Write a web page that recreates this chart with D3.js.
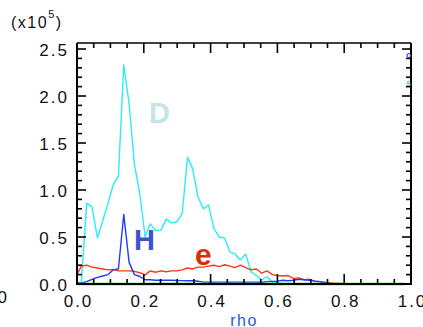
<!DOCTYPE html>
<html><head><meta charset="utf-8">
<script src="https://cdn.jsdelivr.net/npm/d3@7"></script>
<style>
html,body{margin:0;padding:0;background:#fff;}
svg{display:block;}
text{font-family:"Liberation Sans",Arial,Helvetica,sans-serif;}
</style></head>
<body>
<svg id="chart" width="423" height="327"></svg>
<script>
// ---- data ----
const rho = [0.000,0.013,0.029,0.045,0.061,0.077,0.093,0.108,0.124,0.140,0.156,0.172,0.188,0.204,0.219,0.235,0.251,0.267,0.283,0.299,0.315,0.331,0.346,0.362,0.378,0.394,0.410,0.426,0.442,0.458,0.473,0.489,0.505,0.521,0.537,0.553,0.569,0.585,0.600,0.616,0.632,0.648,0.664,0.680,0.696,0.712,0.727,0.743,0.759,0.775,0.791,0.807,0.823,0.838,0.854,0.870,0.886,0.902,0.918,0.934,0.950,0.965,0.981];
const seriesD = [0.00,0.01,0.86,0.82,0.49,0.67,0.86,1.05,1.15,2.33,1.92,1.27,0.96,0.50,0.64,0.57,0.57,0.69,0.65,0.66,0.75,1.35,1.23,0.93,0.80,0.84,0.59,0.50,0.49,0.34,0.32,0.255,0.32,0.13,0.09,0.04,0.08,0.015,0.01,0.005,0,0,0,0,0,0,0,0,0,0,0,0,0,0,0,0,0,0,0,0,0,0,0];
const seriesH = [0.01,0.01,0.025,0.05,0.07,0.085,0.10,0.15,0.16,0.74,0.23,0.10,0.08,0.045,0.045,0.04,0.04,0.04,0.04,0.038,0.036,0.035,0.035,0.03,0.02,0.02,0.02,0.02,0.02,0.02,0.02,0.02,0.02,0.02,0.02,0.018,0.025,0.028,0.03,0.04,0.035,0.04,0.05,0.045,0.04,0.03,0.025,0.01,0.005,0,0,0,0,0,0,0,0,0,0,0,0,0,0];
const seriesE = [0.10,0.19,0.20,0.18,0.17,0.16,0.15,0.155,0.14,0.14,0.14,0.135,0.12,0.095,0.14,0.125,0.14,0.13,0.14,0.14,0.15,0.17,0.16,0.18,0.18,0.19,0.20,0.185,0.205,0.19,0.175,0.20,0.175,0.15,0.16,0.115,0.14,0.10,0.09,0.085,0.09,0.06,0.065,0.045,0.05,0.03,0.025,0.018,0.012,0.008,0.005,0.002,0,0,0,0,0,0,0,0,0,0,0];
const seriesZero = rho.map(() => 0);
const yTickLabels = ["0.0","0.5","1.0","1.5","2.0","2.5"];
const xTickLabels = ["0.0","0.2","0.4","0.6","0.8","1.0"];

// ---- layout ----
const svg = d3.select("#chart");
const L = 77, R = 411, T = 43, B = 284;
const x = d3.scaleLinear().domain([0,1]).range([L,R]);
const y = d3.scaleLinear().domain([0,2.564]).range([B,T]);

const plot = svg.append("g");
plot.append("clipPath").attr("id","clip").append("rect").attr("x",L).attr("y",T).attr("width",R-L).attr("height",B-T+2);

const line = d3.line().x((d,i)=>x(rho[i])).y(d=>y(d));
const g = plot.append("g").attr("clip-path","url(#clip)");
const series = [
  {v:seriesD, c:"#2cecf6", w:1.4},
  {v:seriesE, c:"#ff3418", w:1.4},
  {v:seriesH, c:"#1e3cf5", w:1.4},
];
series.forEach(s=>{
  g.append("path").attr("d",line(s.v)).attr("fill","none").attr("stroke",s.c).attr("stroke-width",s.w).attr("stroke-linejoin","round");
});
g.append("path").attr("d",line(seriesZero)).attr("fill","none").attr("stroke","#10c810").attr("stroke-width",2.6);

// axes
const font = 'font-size:17px;letter-spacing:2px;';
const axLeft = d3.axisRight(y).tickValues(d3.range(0,2.55,0.1)).tickSize(0).tickFormat("");
function ticksY(gx, xpos, dir){
  d3.range(0,26).forEach(i=>{
    const v=i/10; const major = i%5===0;
    gx.append("line").attr("x1",xpos).attr("x2",xpos+dir*(major?9:5)).attr("y1",y(v)).attr("y2",y(v)).attr("stroke","#000").attr("stroke-width",1.6);
  });
}
function ticksX(gx, ypos, dir){
  d3.range(0,21).forEach(i=>{
    const v=i/20; const major = i%4===0;
    gx.append("line").attr("y1",ypos).attr("y2",ypos+dir*(major?10:5)).attr("x1",x(v)).attr("x2",x(v)).attr("stroke","#000").attr("stroke-width",1.6);
  });
}
const axes = svg.append("g");
ticksY(axes, L, 1);
ticksY(axes, R, -1);
ticksX(axes, B, -1);
ticksX(axes, T, 1);
// frame (bottom drawn under green)
axes.append("line").attr("x1",L).attr("x2",L).attr("y1",T).attr("y2",B+1).attr("stroke","#000").attr("stroke-width",2);
axes.append("line").attr("x1",R).attr("x2",R).attr("y1",T).attr("y2",B+1).attr("stroke","#000").attr("stroke-width",2);
axes.append("line").attr("x1",L).attr("x2",R).attr("y1",T).attr("y2",T).attr("stroke","#000").attr("stroke-width",1.6);
axes.insert("line",":first-child").attr("x1",L).attr("x2",R).attr("y1",B).attr("y2",B).attr("stroke","#000").attr("stroke-width",2);
g.raise();

// tick labels via axis generators (text only)
const yAx = svg.append("g").attr("transform",`translate(${L},0)`)
  .call(d3.axisLeft(y).tickValues([0,0.5,1,1.5,2,2.5]).tickSize(0).tickPadding(8).tickFormat((d,i)=>yTickLabels[i]));
yAx.select(".domain").remove();
yAx.selectAll("text").attr("style",font).attr("fill","#111").attr("font-family",null).attr("dy","0.36em");

const xAx = svg.append("g").attr("transform",`translate(0,${B})`)
  .call(d3.axisBottom(x).tickValues([0,0.2,0.4,0.6,0.8,1.0]).tickSize(0).tickPadding(11).tickFormat((d,i)=>xTickLabels[i]));
xAx.select(".domain").remove();
xAx.selectAll("text").attr("style",font).attr("fill","#111").attr("dy","0.71em").attr("dx","1px");

// exponent
const ex = svg.append("text").attr("x",11).attr("y",28).attr("style","font-size:16px;letter-spacing:1.5px;").attr("fill","#111");
ex.append("tspan").text("(x10");
ex.append("tspan").attr("dy",-10).attr("style","font-size:11px;").text("5");
ex.append("tspan").attr("dy",10).text(")");

// x title
svg.append("text").attr("x",x(0.5)).attr("y",326).attr("text-anchor","middle").attr("style","font-size:16px;letter-spacing:1.5px;").attr("fill","#2a55e0").text("rho");

// neighbour clipped label
svg.append("text").attr("x",9).attr("y",303).attr("text-anchor","end").attr("style",font).attr("fill","#111").text("1.0");

// series labels
svg.append("text").attr("x",149).attr("y",123).attr("style","font-size:29px;font-weight:bold;").attr("fill","#c6e4e8").text("D");
svg.append("text").attr("x",134).attr("y",250).attr("style","font-size:29px;font-weight:bold;").attr("fill","#3b52d4").text("H");
svg.append("text").attr("x",195).attr("y",265).attr("style","font-size:30px;font-weight:bold;").attr("fill","#d8300c").text("e");

// clipped marks near right axis
svg.append("text").attr("x",406).attr("y",58).attr("style","font-size:9px;font-weight:bold;").attr("fill","#2a55e0").text("o");
svg.append("text").attr("x",406).attr("y",86).attr("style","font-size:9px;font-weight:bold;").attr("fill","#2ad8e6").text("s");
</script>
</body></html>
